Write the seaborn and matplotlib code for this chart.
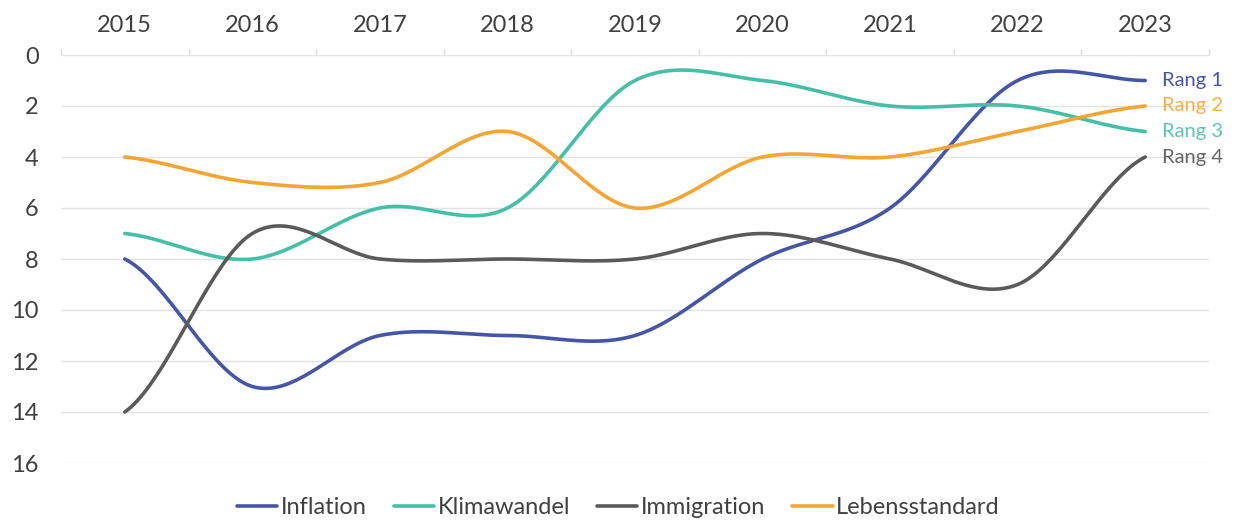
import numpy as np
import pandas as pd
import matplotlib
matplotlib.use("Agg")
import matplotlib.pyplot as plt
import seaborn as sns
from matplotlib.lines import Line2D

years = [2015, 2016, 2017, 2018, 2019, 2020, 2021, 2022, 2023]
inflation = [8, 13, 11, 11, 11, 8, 6, 1, 1]
klimawandel = [7, 8, 6, 6, 1, 1, 2, 2, 3]
immigration = [14, 7, 8, 8, 8, 7, 8, 9, 4]
lebensstandard = [4, 5, 5, 3, 6, 4, 4, 3, 2]
series_names = ["Inflation", "Klimawandel", "Immigration", "Lebensstandard"]
rang_labels = ["Rang 1", "Rang 2", "Rang 3", "Rang 4"]
y_ticks = [0, 2, 4, 6, 8, 10, 12, 14, 16]

colors = {"Inflation": "#4556a6", "Klimawandel": "#45bfa8",
          "Immigration": "#5a5a5a", "Lebensstandard": "#f4a533"}
rang_colors = ["#4556a6", "#f4b04a", "#5cc7b3", "#666666"]

sns.set_theme(style="white")
plt.rcParams['font.family'] = ['Lato', 'DejaVu Sans']


def smooth(xs, ys, n=40):
    # Catmull-Rom style smoothing of the line path between data points
    xs = np.asarray(xs, float); ys = np.asarray(ys, float)
    px = np.concatenate([[2 * xs[0] - xs[1]], xs, [2 * xs[-1] - xs[-2]]])
    py = np.concatenate([[ys[0]], ys, [ys[-1]]])
    outx, outy = [], []
    for i in range(1, len(px) - 2):
        p0, p1, p2, p3 = py[i - 1], py[i], py[i + 1], py[i + 2]
        x1, x2 = px[i], px[i + 1]
        t = np.linspace(0, 1, n, endpoint=False)
        if i == len(px) - 3:
            t = np.linspace(0, 1, n)
        m1 = (p2 - p0) / 2.0 if i > 1 else (p2 - p1) / 2.0
        m2 = (p3 - p1) / 2.0 if i < len(px) - 3 else (p2 - p1) / 2.0
        h00 = 2 * t**3 - 3 * t**2 + 1
        h10 = t**3 - 2 * t**2 + t
        h01 = -2 * t**3 + 3 * t**2
        h11 = t**3 - t**2
        outy.append(h00 * p1 + h10 * m1 + h01 * p2 + h11 * m2)
        outx.append(x1 + t * (x2 - x1))
    return np.concatenate(outx), np.concatenate(outy)


data = {"Inflation": inflation, "Klimawandel": klimawandel,
        "Immigration": immigration, "Lebensstandard": lebensstandard}
xi = np.arange(len(years))
frames = []
for name in series_names:
    sx, sy = smooth(xi, data[name])
    frames.append(pd.DataFrame({"x": sx, "y": sy, "serie": name}))
df = pd.concat(frames, ignore_index=True)

fig = plt.figure(figsize=(12.37, 5.2), dpi=100)
ax = fig.add_axes([61 / 1237, 1 - 463 / 520, (1209 - 61) / 1237, (463 - 55) / 520])

sns.lineplot(data=df, x="x", y="y", hue="serie", palette=colors, ax=ax,
             linewidth=2.6, legend=False, sort=False, estimator=None)

ax.set_xlim(-0.5, len(years) - 0.5)
ax.set_ylim(16, 0)
ax.set_yticks(y_ticks)
ax.set_yticklabels([str(v) for v in y_ticks])
ax.set_xticks(xi)
ax.set_xticklabels([str(y) for y in years])
ax.xaxis.tick_top()
ax.set_xticks(np.arange(-0.5, len(years)), minor=True)
ax.tick_params(axis="x", which="major", length=0, pad=14, labelsize=17, labelcolor="#404040")
ax.tick_params(axis="x", which="minor", length=4, color="#d9d9d9", width=1, top=True, bottom=False)
ax.tick_params(axis="y", length=0, pad=16, labelsize=17, labelcolor="#404040")
ax.set_xlabel(""); ax.set_ylabel("")
ax.grid(axis="y", color="#e3e3e3", linewidth=1)
ax.grid(axis="x", visible=False)
for s in ax.spines.values():
    s.set_visible(False)

for i, lab in enumerate(rang_labels):
    ax.text(len(years) - 1 + 0.13, i + 1, lab, color=rang_colors[i], fontsize=14.5,
            va="center", ha="left")

handles = [Line2D([0], [0], color=colors[n], lw=2.6) for n in series_names]
fig.legend(handles, series_names, loc="center", bbox_to_anchor=(0.5, 1 - 508 / 520),
           ncol=4, frameon=False, fontsize=17, handlelength=1.7, handletextpad=0.15,
           columnspacing=1.15, labelcolor="#404040")

fig.savefig("out.png", dpi=100)
